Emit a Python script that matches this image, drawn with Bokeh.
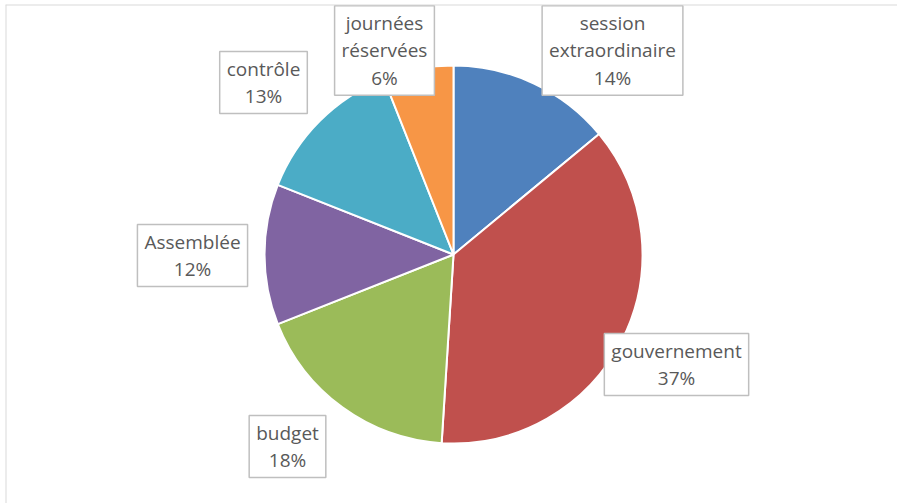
import math
from bokeh.plotting import figure
from bokeh.models import ColumnDataSource, Range1d, Span
from bokeh.core.properties import value
from bokeh.embed import file_html
from bokeh.resources import INLINE

# ---- data ----
categories = ["session\nextraordinaire", "gouvernement", "budget", "Assemblée", "contrôle", "journées\nréservées"]
shares = [14, 37, 18, 12, 13, 6]
colors = ["#4F81BD", "#C0504D", "#9BBB59", "#8064A2", "#4BACC6", "#F79646"]

# ---- layout (pixel space of the plot frame) ----
W, H = 897, 503
BL, BT = 5, 4
FW, FH = W - BL, H - BT
cx, cy, r = 448, 249, 189
# label centres (layout offsets, in frame pixels)
label_x = [607, 671, 282, 187, 258, 379]
label_y = [453, 139, 57, 248, 421, 453]

total = float(sum(shares))
starts, ends = [], []
cum = 0.0
for s in shares:
    a0 = math.pi / 2 - 2 * math.pi * (cum + s) / total
    a1 = math.pi / 2 - 2 * math.pi * cum / total
    starts.append(a0)
    ends.append(a1)
    cum += s

src = ColumnDataSource(dict(start=starts, end=ends, color=colors))
labels = [f"{c}\n{s}%" for c, s in zip(categories, shares)]
lsrc = ColumnDataSource(dict(x=label_x, y=label_y, text=labels))

p = figure(width=W, height=H, output_backend="svg", toolbar_location=None,
           x_range=Range1d(0, FW), y_range=Range1d(0, FH),
           min_border_left=BL, min_border_top=BT, min_border_right=0, min_border_bottom=0)
p.axis.visible = False
p.grid.visible = False
p.outline_line_color = None
p.background_fill_color = "white"
p.border_fill_color = "white"

# chart-area border (top, left and right edges visible in the reference)
p.add_layout(Span(location=0, dimension="height", line_color="#D9D9D9", line_width=2))
p.add_layout(Span(location=FH, dimension="width", line_color="#D9D9D9", line_width=2))

p.wedge(x=cx, y=cy, radius=r, start_angle="start", end_angle="end",
        fill_color="color", line_color="white", line_width=2, source=src)

p.text(x="x", y="y", text="text", source=lsrc,
       text_font=value("Open Sans"), text_font_size="19px", text_color="#595959",
       text_align="center", text_baseline="middle", text_line_height=1.07,
       background_fill_color="white",
       border_line_color="#BFBFBF", border_line_width=1.5,
       padding=dict(left=7, right=7, top=4, bottom=4))

open("out.html", "w").write(file_html(p, INLINE))
